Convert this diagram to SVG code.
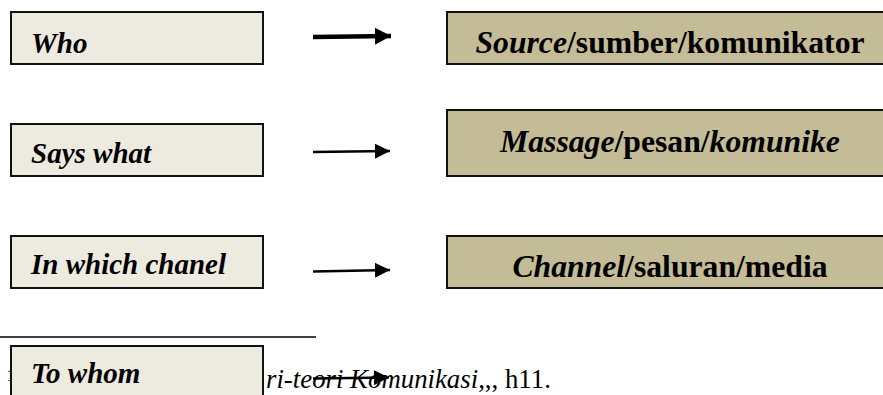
<svg xmlns="http://www.w3.org/2000/svg" width="883" height="395" viewBox="0 0 883 395">
<style>
.lbox{fill:#EDEAE0;stroke:#111;stroke-width:2}
.rbox{fill:#C4BB97;stroke:#111;stroke-width:2}
.lt{font-size:29px;fill:#000}
.rt{font-size:31.7px;fill:#000;text-anchor:middle}
.fn{font-size:26.8px;fill:#000}
.sup{font-size:16px;fill:#000}
.arr{stroke:#000;fill:none}
</style>
<defs>
<marker id="ah" viewBox="0 0 10 10" refX="10" refY="5" markerUnits="userSpaceOnUse" markerWidth="15" markerHeight="15" orient="auto">
<path d="M0,0 L10,5 L0,10 Z" fill="#000"/>
</marker>
<marker id="ah1" viewBox="0 0 10 10" refX="10" refY="5" markerUnits="userSpaceOnUse" markerWidth="16" markerHeight="17" orient="auto" preserveAspectRatio="none">
<path d="M0,0 L10,5 L0,10 Z" fill="#000"/>
</marker>
</defs>
<g id="footnote" font-family="Liberation Serif, Times New Roman, serif">
<line x1="0" y1="337" x2="316" y2="337" stroke="#000" stroke-width="1.5"/>
<text class="sup" x="6.5" y="381">1</text>
<text class="fn" x="266" y="388"><tspan font-style="italic">ri-teori Komunikasi</tspan>,,, h11.</text>
</g>
<g font-family="Liberation Serif, Times New Roman, serif" font-weight="bold" font-style="italic">
<g id="who"><rect class="lbox" x="11" y="12" width="252" height="52"/><text class="lt" x="31" y="53">Who</text></g>
<g id="says-what"><rect class="lbox" x="11" y="124" width="252" height="52"/><text class="lt" x="31" y="163">Says what</text></g>
<g id="in-which-chanel"><rect class="lbox" x="11" y="236" width="252" height="52"/><text class="lt" x="31" y="274">In which chanel</text></g>
<g id="to-whom"><rect class="lbox" x="11" y="346" width="252" height="60"/><text class="lt" x="31" y="383">To whom</text></g>
</g>
<g font-family="Liberation Serif, Times New Roman, serif" font-weight="bold">
<g id="source"><rect class="rbox" x="447" y="12" width="450" height="52"/><text class="rt" x="670" y="53"><tspan font-style="italic">Source</tspan>/sumber/komunikator</text></g>
<g id="massage"><rect class="rbox" x="447" y="110" width="450" height="66"/><text class="rt" x="670" y="152"><tspan font-style="italic">Massage</tspan>/pesan/<tspan font-style="italic">komunike</tspan></text></g>
<g id="channel"><rect class="rbox" x="447" y="236" width="450" height="52"/><text class="rt" x="670" y="277"><tspan font-style="italic">Channel</tspan>/saluran/media</text></g>
</g>
<g id="connectors">
<line class="arr" x1="313" y1="37" x2="391" y2="36" stroke-width="4.5" marker-end="url(#ah1)"/>
<line class="arr" x1="313" y1="152" x2="390" y2="151" stroke-width="2.5" marker-end="url(#ah)"/>
<line class="arr" x1="313" y1="271.5" x2="390" y2="270" stroke-width="2.5" marker-end="url(#ah)"/>
<line class="arr" x1="313" y1="378.5" x2="389" y2="377.5" stroke-width="2.5" marker-end="url(#ah)"/>
</g>
</svg>
